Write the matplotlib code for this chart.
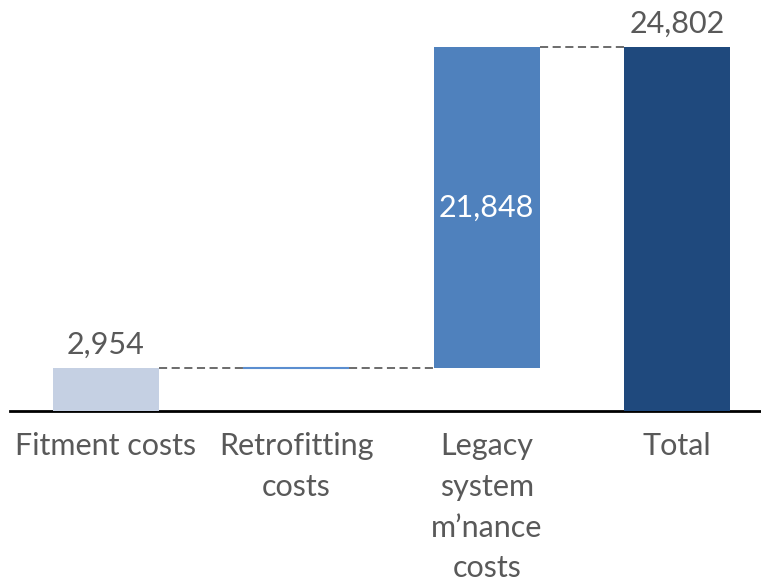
import matplotlib
matplotlib.use("Agg")
import matplotlib.pyplot as plt

categories = ["Fitment costs", "Retrofitting\ncosts", "Legacy\nsystem\nm\u2019nance\ncosts", "Total"]
increments = [2954, 0, 21848]
total = 24802
value_labels = ["2,954", None, "21,848", "24,802"]

colors = ["#C5D0E3", "#5B8ED0", "#4F81BD", "#1F497D"]
text_color = "#595959"

plt.rcParams["font.family"] = ["Lato", "DejaVu Sans"]

fig = plt.figure(figsize=(7.61, 5.81), dpi=100)
ax = fig.add_axes([10 / 761, 170 / 581, 751 / 761, 401 / 581])

width = 0.556
bottoms = []
running = 0
for v in increments:
    bottoms.append(running)
    running += v
bottoms.append(0)
heights = increments + [total]

for i, (b, h) in enumerate(zip(bottoms, heights)):
    if h == 0:
        ax.plot([i - width / 2, i + width / 2], [b, b], color=colors[i], lw=1.5,
                solid_capstyle="butt", zorder=3)
    else:
        ax.bar(i, h, bottom=b, width=width, color=colors[i], zorder=3)

# connectors between consecutive bars
levels = [bottoms[i] + heights[i] for i in range(len(increments))]
for i, lvl in enumerate(levels):
    ax.plot([i + width / 2, i + 1 - width / 2], [lvl, lvl], color="#606060",
            lw=1.3, ls=(0, (4.5, 2.5)), zorder=2)

# value labels
fs = 22
ax.text(0, heights[0] + 600, value_labels[0], ha="center", va="bottom",
        fontsize=fs, color=text_color)
ax.text(2, bottoms[2] + heights[2] / 2, value_labels[2], ha="center", va="center",
        fontsize=fs, color="white")
ax.text(3, total + 600, value_labels[3], ha="center", va="bottom",
        fontsize=fs, color=text_color)

ax.set_xlim(-0.504, 3.44)
ax.set_ylim(0, 27323)
for s in ["top", "right", "left"]:
    ax.spines[s].set_visible(False)
ax.spines["bottom"].set_linewidth(2)
ax.spines["bottom"].set_color("black")
ax.set_yticks([])
ax.set_xticks(range(4))
ax.set_xticklabels(categories, fontsize=fs, color=text_color, linespacing=1.56)
ax.tick_params(axis="x", length=0, pad=15)

fig.savefig("out.png", dpi=100)
